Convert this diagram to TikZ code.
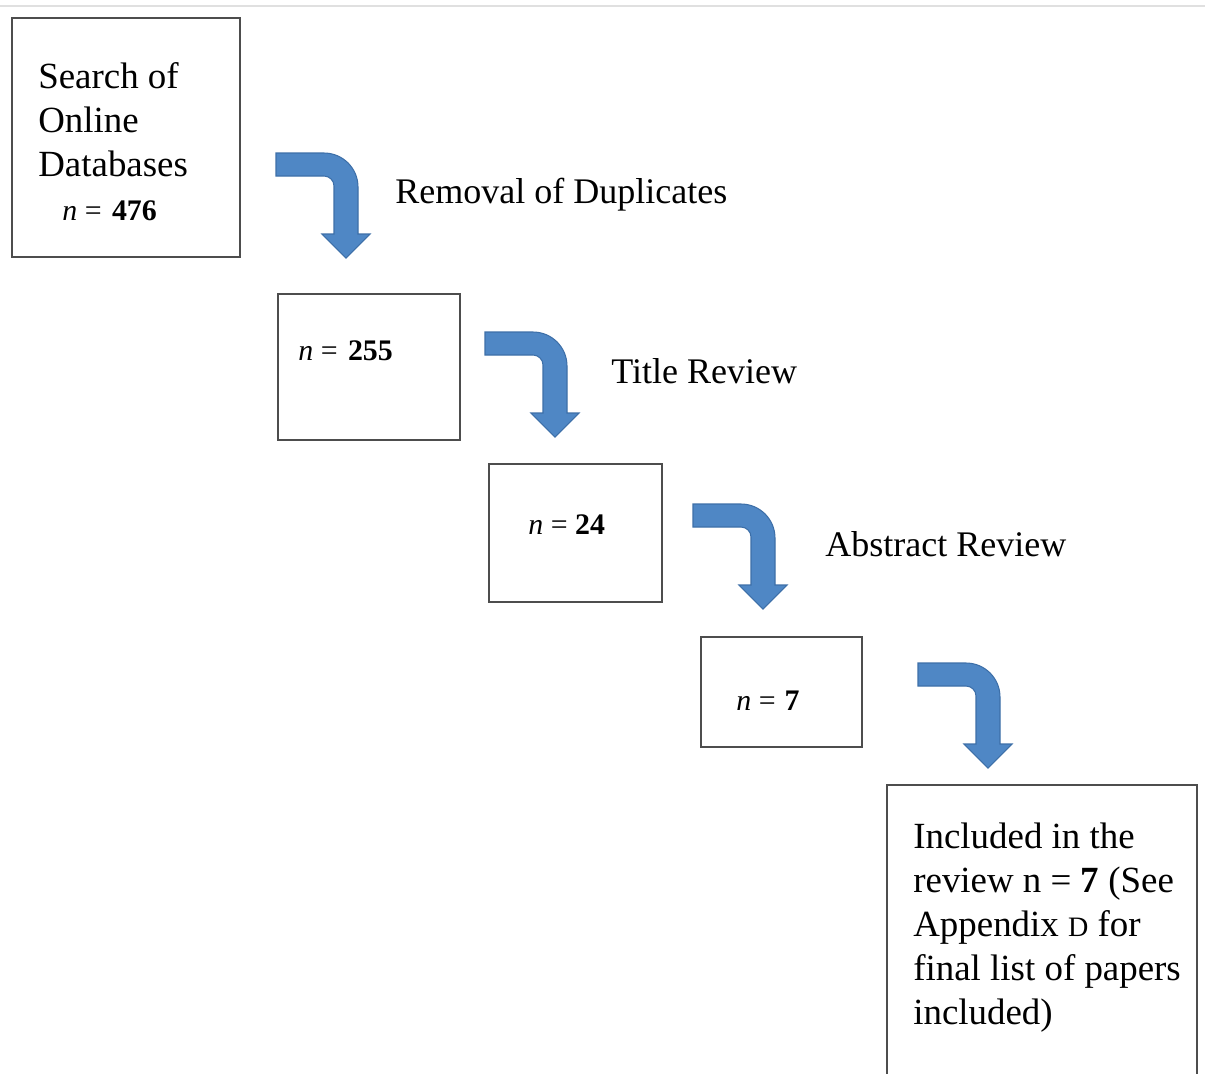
\documentclass[tikz,border=0pt]{standalone}
\usepackage{fontspec}
\setmainfont{Liberation Serif}
\usepackage{tikz}
\usetikzlibrary{positioning}
\definecolor{boxgray}{HTML}{4D4D4D}
\definecolor{arrowblue}{HTML}{4F87C5}
\definecolor{arrowedge}{HTML}{3D6FA8}

\begin{document}
\begin{tikzpicture}
[   x=0.02cm, y=-0.02cm,
    box/.style={draw=boxgray,line width=1.1pt,inner sep=0pt},
    txt/.style={font=\fontsize{21}{25}\selectfont,align=left,inner sep=0pt,anchor=north west},
    num/.style={font=\fontsize{17}{20}\selectfont,inner sep=0pt,anchor=base west},
    lbl/.style={font=\fontsize{20.5}{25}\selectfont,inner sep=0pt,anchor=base west},
]
\tikzset{bent arrow/.pic={
    \filldraw[fill=arrowblue,draw=arrowedge,line width=0.6pt]
        (0,0) -- (48,0) .. controls (66.8,0) and (82,15.2) .. (82,34) -- (82,81)
        -- (94,81) -- (70,105) -- (46,81) -- (58,81) -- (58,33)
        .. controls (58,27.5) and (53.5,23) .. (48,23) -- (0,23) -- cycle;
}}
\useasboundingbox (0,0) rectangle (1205,1073);
\clip (0,0) rectangle (1205,1073);
\coordinate (top-l) at (0,6);
\coordinate (top-r) at (1205,6);
\draw[black!12,line width=1pt] (top-l) -- (top-r);

% boxes
\node[box,minimum width=4.56cm,minimum height=4.78cm] (search) at (126,137.5) {};
\node[box,minimum width=3.64cm,minimum height=2.92cm] (dedup) at (369,367) {};
\node[box,minimum width=3.46cm,minimum height=2.76cm] (title) at (575.5,533) {};
\node[box,minimum width=3.22cm,minimum height=2.2cm] (abstract) at (781.5,692) {};
\node[box,minimum width=6.2cm,minimum height=6.4cm] (incl) at (1042,945) {};

% texts
\node[txt] (search-txt) at (38,62) {Search of\\Online\\Databases};
\node[num] (search-n) at (62,220) {\textit{n} =\hspace{0.35em}\textbf{476}};
\node[num] (dedup-n) at (298,360) {\textit{n} =\hspace{0.35em}\textbf{255}};
\node[num] (title-n) at (528,534) {\textit{n} = \textbf{24}};
\node[num] (abstract-n) at (736,710) {\textit{n} =\hspace{0.3em}\textbf{7}};
\node[txt] (incl-txt) at (913,823) {Included in the\\review n = \textbf{7} (See\\Appendix~{\fontsize{16}{16}\selectfont D} for\\final list of papers\\included)};

% steps
\foreach \ax/\ay [count=\i] in {276/153, 485/332, 693/504, 918/663}
{
    \coordinate (arr-\i) at (\ax,\ay);
    \pic at (arr-\i) {bent arrow};
}
\node[lbl] (lbl-1) at (395,203) {Removal of Duplicates};
\node[lbl] (lbl-2) at (611,383) {Title Review};
\node[lbl] (lbl-3) at (825,556) {Abstract Review};
\end{tikzpicture}
\end{document}
